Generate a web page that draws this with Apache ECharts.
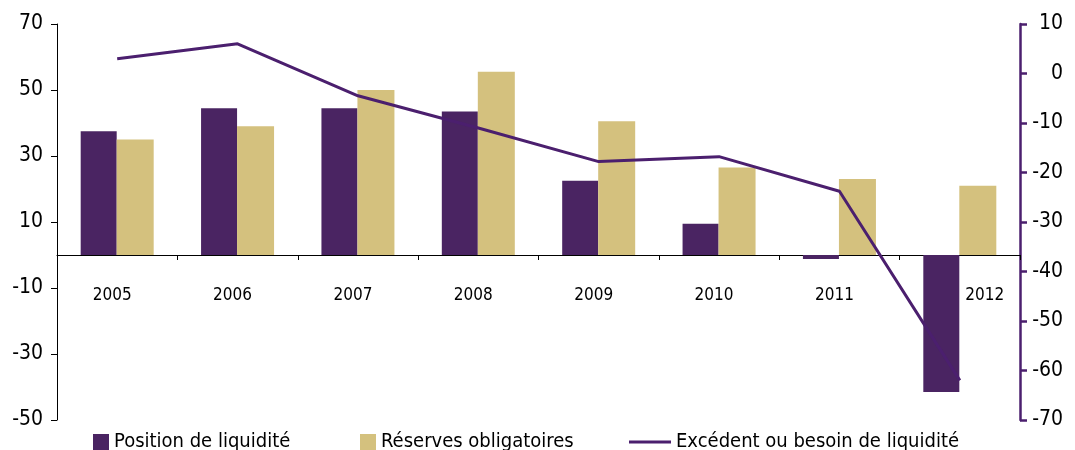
<!DOCTYPE html>
<html><head><meta charset="utf-8">
<script src="https://cdn.jsdelivr.net/npm/echarts@6/dist/echarts.min.js"></script>
<style>html,body{margin:0;padding:0;background:#fff}#c{width:1075px;height:450px}</style>
</head><body><div id="c"></div>
<script>
const categories = ['2005','2006','2007','2008','2009','2010','2011','2012'];
const positionLiquidite = [37.5, 44.5, 44.5, 43.5, 22.5, 9.5, -1.2, -41.5];
const reservesObligatoires = [35, 39, 50, 55.5, 40.5, 26.5, 23, 21];
const excedentBesoin = [3, 6, -4.5, -11, -17.8, -16.8, -23.8, -62];
const leftTicks = [70, 50, 30, 10, -10, -30, -50];
const rightTicks = [10, 0, -10, -20, -30, -40, -50, -60, -70];

const FONT = "'Liberation Sans Narrow', 'DejaVu Sans Condensed', 'Roboto Condensed', sans-serif";
const PURPLE = '#4a2462';
const LINEP = '#4b1f6e';
const TAN = '#d4c17e';

const GRID_TOP = 24, GRID_BOTTOM = 30, H = 450;
const LMIN = -50, LMAX = 70;
const plotH = H - GRID_TOP - GRID_BOTTOM;
const zeroOffset = plotH * (0 - LMIN) / (LMAX - LMIN); // distance of zero line above grid bottom

const chart = echarts.init(document.getElementById('c'), null, {renderer: 'canvas'});
chart.setOption({
  animation: false,
  textStyle: {fontFamily: FONT},
  grid: {left: 57, right: 55, top: GRID_TOP, bottom: GRID_BOTTOM, containLabel: false, outerBoundsMode: 'none'},
  legend: [
    {data: [{name: 'Position de liquidité', icon: 'rect'}], left: 88, top: 427, itemWidth: 16, itemHeight: 16, itemGap: 6,
     textStyle: {fontFamily: FONT, fontSize: 20, color: '#000'}},
    {data: [{name: 'Réserves obligatoires', icon: 'rect'}], left: 355, top: 427, itemWidth: 16, itemHeight: 16, itemGap: 6,
     textStyle: {fontFamily: FONT, fontSize: 20, color: '#000'}},
    {data: [{name: 'Excédent ou besoin de liquidité', icon: 'rect'}], left: 624, top: 427, itemWidth: 42, itemHeight: 3, itemGap: 6,
     textStyle: {fontFamily: FONT, fontSize: 20, color: '#000'}}
  ],
  xAxis: [
    {type: 'category', data: categories,
     axisLine: {onZero: true, lineStyle: {color: '#000', width: 1}},
     axisTick: {show: true, inside: false, length: 5, lineStyle: {color: '#000'}},
     axisLabel: {show: false},
     splitLine: {show: false}},
    {type: 'category', position: 'bottom', offset: -zeroOffset,
     data: categories.map((c, i) => i === categories.length - 1 ? {value: c, textStyle: {padding: [0, 0, 0, 50]}} : {value: c, textStyle: {padding: [0, 10, 0, 0]}}),
     axisLine: {show: false, onZero: false}, axisTick: {show: false},
     axisLabel: {margin: 32, fontSize: 17, color: '#000', fontFamily: FONT, interval: 0},
     splitLine: {show: false}}
  ],
  yAxis: [
    {type: 'value', min: LMIN, max: LMAX, interval: 20,
     axisLine: {show: true, onZero: false, lineStyle: {color: '#000', width: 1}},
     axisTick: {show: true, length: 6, lineStyle: {color: '#000'}},
     axisLabel: {fontSize: 21, color: '#000', margin: 14, fontFamily: FONT,
       formatter: v => leftTicks.includes(v) ? String(v) : ''},
     splitLine: {show: false}},
    {type: 'value', min: -70, max: 10, interval: 10, position: 'right',
     axisLine: {show: true, onZero: false, lineStyle: {color: LINEP, width: 2.5}},
     axisTick: {show: true, length: 7, lineStyle: {color: LINEP, width: 2.5}},
     axisLabel: {fontSize: 21, color: '#000', margin: 43, align: 'right', fontFamily: FONT,
       formatter: v => rightTicks.includes(v) ? String(v) : ''},
     splitLine: {show: false}}
  ],
  series: [
    {name: 'Position de liquidité', type: 'bar', data: positionLiquidite, barWidth: 36, barGap: '0%',
     itemStyle: {color: PURPLE}, yAxisIndex: 0, xAxisIndex: 0},
    {name: 'Réserves obligatoires', type: 'bar', data: reservesObligatoires, barWidth: 37, barGap: '0%',
     itemStyle: {color: TAN}, yAxisIndex: 0, xAxisIndex: 0},
    {name: 'Excédent ou besoin de liquidité', type: 'line', data: excedentBesoin, yAxisIndex: 1, xAxisIndex: 0,
     symbol: 'none', lineStyle: {color: LINEP, width: 3}, itemStyle: {color: LINEP}, z: 5}
  ]
});
</script></body></html>
